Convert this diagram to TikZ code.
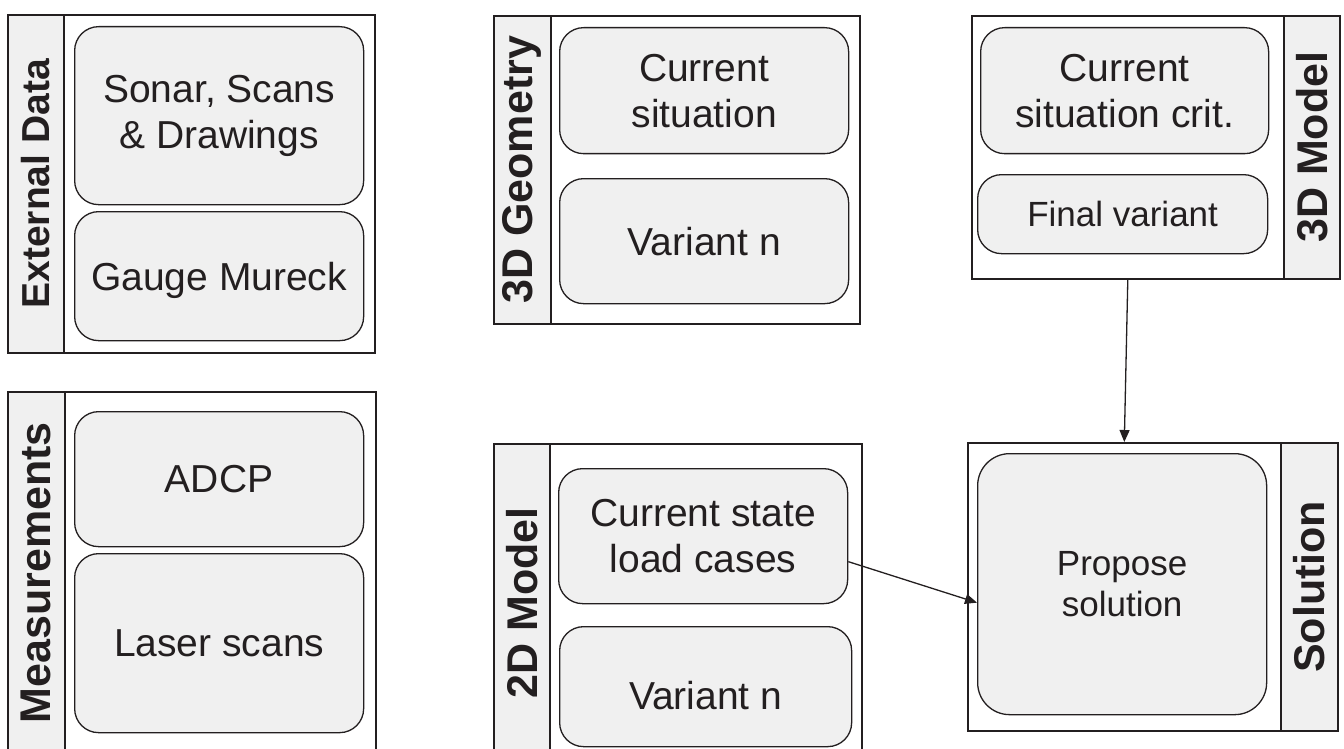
\documentclass[tikz,border=0pt]{standalone}
\usepackage{fontspec}
\setmainfont{Liberation Sans}
\usetikzlibrary{arrows.meta,calc}
\definecolor{linec}{HTML}{231F20}
\definecolor{boxfill}{HTML}{F0F0F0}
\begin{document}
\begin{tikzpicture}[x=1pt,y=-1pt,
  frame/.style={draw=linec, line width=1.6pt, fill=white, rectangle, inner sep=0pt, anchor=north west},
  strip/.style={draw=linec, line width=1.6pt, fill=boxfill, rectangle, inner sep=0pt, anchor=north west},
  item/.style={draw=linec, line width=1.3pt, fill=boxfill, rounded corners=24pt, inner sep=0pt,
    anchor=north west, align=center, text=linec, font=\fontsize{39}{46}\selectfont},
  smallitem/.style={item, font=\fontsize{35}{41}\selectfont},
  lbl/.style={rotate=90, inner sep=0pt, text=linec, font=\bfseries\fontsize{43}{50}\selectfont},
  conn/.style={draw=linec, line width=1.3pt, -{Triangle[length=12pt,width=10pt]}}]
\useasboundingbox (0,0) rectangle (1344,749);
\clip (0,0) rectangle (1344,749);

% External Data
\node[frame, minimum width=311pt, minimum height=338pt] (extw) at (63,14) {};
\node[strip, minimum width=56pt, minimum height=338pt] (exts) at (7,14) {};
\node[lbl, font=\bfseries\fontsize{39}{46}\selectfont] (extl) at (exts.center) {External Data};
\node[item, minimum width=289pt, minimum height=178pt] (sonar) at (74,26) {Sonar, Scans\\\& Drawings};
\node[item, minimum width=289pt, minimum height=129pt, text depth=0pt] (gauge) at (74,211) {Gauge Mureck};

% Measurements
\node[frame, minimum width=311pt, minimum height=362pt] (measw) at (64,391) {};
\node[strip, minimum width=57pt, minimum height=362pt] (meass) at (7,391) {};
\node[lbl] (measl) at (meass.center) {Measurements};
\node[item, minimum width=289pt, minimum height=135pt] (adcp) at (74,411) {ADCP};
\node[item, minimum width=289pt, minimum height=179pt] (laser) at (74,553) {Laser scans};

% 3D Geometry
\node[frame, minimum width=309pt, minimum height=308pt] (geow) at (550,15) {};
\node[strip, minimum width=57pt, minimum height=308pt] (geos) at (493,15) {};
\node[lbl] (geol) at (geos.center) {3D Geometry};
\node[item, minimum width=289pt, minimum height=126pt] (curgeo) at (559,27) {Current\\situation};
\node[item, minimum width=289pt, minimum height=125pt] (vargeo) at (559,178) {Variant n};

% 2D Model
\node[frame, minimum width=312pt, minimum height=318pt] (m2dw) at (549,443) {};
\node[strip, minimum width=56pt, minimum height=318pt] (m2ds) at (493,443) {};
\node[lbl] (m2dl) at (m2ds.center) {2D Model};
\node[item, minimum width=289pt, minimum height=135pt] (cs2d) at (558,468) {Current state\\load cases};
\node[item, minimum width=292pt, minimum height=120pt, text height=46pt] (var2d) at (559,626) {Variant n};

% 3D Model
\node[frame, minimum width=312pt, minimum height=263pt] (m3dw) at (971,15) {};
\node[strip, minimum width=56pt, minimum height=263pt] (m3ds) at (1283,15) {};
\node[lbl] (m3dl) at (m3ds.center) {3D Model};
\node[item, minimum width=288pt, minimum height=126pt] (crit) at (980,27) {Current\\situation crit.};
\node[smallitem, minimum width=290pt, minimum height=79pt] (final) at (977,174) {Final variant};

% Solution
\node[frame, minimum width=313pt, minimum height=288pt] (solw) at (967,442) {};
\node[strip, minimum width=57pt, minimum height=288pt] (sols) at (1280,442) {};
\node[lbl] (soll) at (sols.center) {Solution};
\node[smallitem, rounded corners=32pt, minimum width=289pt, minimum height=261pt] (prop) at (977,453) {Propose\\solution};

% Connectors
\draw[conn] (m3dw.south) -- (solw.north);
\draw[conn] ([yshift=-25.5pt]cs2d.east) -- ([yshift=-18.5pt]prop.west);
\end{tikzpicture}
\end{document}
